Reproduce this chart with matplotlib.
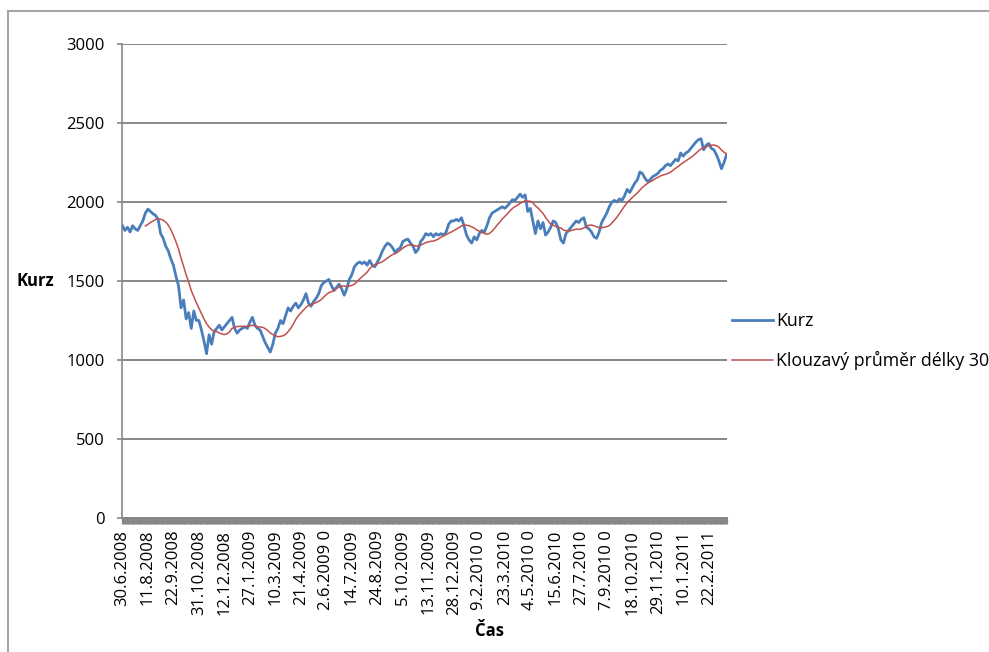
import matplotlib
matplotlib.use("Agg")
import matplotlib.pyplot as plt
import numpy as np
import pandas as pd
from matplotlib.patches import Rectangle

# ── Data: closing price, one value every 3rd trading day ──────────────────────
kurz = [
    1850, 1820, 1840, 1810, 1850, 1830, 1820, 1850, 1880, 1930,
    1955, 1940, 1925, 1915, 1890, 1800, 1770, 1720, 1690, 1640,
    1600, 1530, 1470, 1330, 1380, 1260, 1300, 1200, 1310, 1250,
    1250, 1190, 1120, 1040, 1160, 1100, 1180, 1200, 1220, 1190,
    1210, 1230, 1250, 1270, 1200, 1170, 1190, 1200, 1210, 1200,
    1240, 1270, 1220, 1200, 1190, 1150, 1110, 1080, 1050, 1100,
    1170, 1200, 1250, 1230, 1280, 1330, 1310, 1340, 1360, 1330,
    1350, 1380, 1420, 1360, 1340, 1370, 1390, 1420, 1470, 1490,
    1500, 1510, 1470, 1440, 1460, 1480, 1450, 1410, 1450, 1510,
    1540, 1590, 1610, 1620, 1610, 1620, 1600, 1630, 1600, 1590,
    1620, 1650, 1690, 1720, 1740, 1730, 1710, 1680, 1700, 1710,
    1750, 1760, 1765, 1740, 1720, 1680, 1700, 1750, 1770, 1800,
    1790, 1800, 1780, 1800, 1790, 1800, 1790, 1810, 1860, 1880,
    1880, 1890, 1880, 1900, 1850, 1790, 1760, 1740, 1780, 1760,
    1800, 1820, 1810, 1850, 1900, 1930, 1940, 1950, 1960, 1970,
    1960, 1975, 1995, 2015, 2010, 2030, 2050, 2030, 2045, 1940,
    1960, 1880, 1800, 1880, 1830, 1870, 1790, 1810, 1840, 1880,
    1870, 1830, 1760, 1740, 1800, 1820, 1840, 1860, 1880, 1870,
    1890, 1900, 1840, 1830, 1810, 1780, 1770, 1810, 1870, 1900,
    1930, 1970, 2000, 2010, 2000, 2020, 2010, 2040, 2080, 2060,
    2090, 2120, 2140, 2190, 2180, 2150, 2130, 2140, 2160, 2170,
    2180, 2200, 2210, 2230, 2240, 2230, 2250, 2270, 2260, 2310,
    2290, 2310, 2320, 2340, 2360, 2380, 2395, 2400, 2330, 2360,
    2370, 2340, 2330, 2300, 2260, 2210, 2250, 2300,
]

datum_labels = [
    "30.6.2008", "11.8.2008", "22.9.2008", "31.10.2008", "12.12.2008",
    "27.1.2009", "10.3.2009", "21.4.2009", "2.6.2009 0", "14.7.2009",
    "24.8.2009", "5.10.2009", "13.11.2009", "28.12.2009", "9.2.2010 0",
    "23.3.2010", "4.5.2010 0", "15.6.2010", "27.7.2010", "7.9.2010 0",
    "18.10.2010", "29.11.2010", "10.1.2011", "22.2.2011",
]

y_ticks = [0, 500, 1000, 1500, 2000, 2500, 3000]

STEP = 3        # trading days between stored values
OKNO = 30       # moving average length in trading days
LABEL_EVERY = 30

FONT = "Open Sans"
GRAY = "#878787"
BLUE = "#4A7EBB"
RED = "#C0504D"

plt.rcParams["font.family"] = [FONT, "DejaVu Sans"]

den = np.arange(len(kurz)) * STEP
prumer = pd.Series(kurz).rolling(OKNO // STEP).mean()
n_dni = den[-1] + 1

W, H = 989, 652
fig = plt.figure(figsize=(W / 100, H / 100), dpi=100)
ax = fig.add_axes([122 / W, 1 - 518 / H, 605 / W, 474 / H])

# chart frame
fig.patches.append(Rectangle((8 / W, -0.1), 1.2, 1.1 - 11 / H,
                             transform=fig.transFigure, fill=False,
                             edgecolor="#a6a6a6", linewidth=1.5))

ax.plot(den, kurz, color=BLUE, linewidth=2.0, label="Kurz", zorder=3)
ax.plot(den, prumer, color=RED, linewidth=1.1,
        label="Klouzavý průměr délky 30", zorder=4)

ax.set_xlim(-0.5, n_dni - 0.5)
ax.set_ylim(0, 3000)
ax.set_yticks(y_ticks)
ax.set_yticklabels([str(v) for v in y_ticks], fontsize=12)
ax.yaxis.grid(True, color=GRAY, linewidth=1.4)
ax.set_axisbelow(True)

ax.set_xticks(np.arange(0, n_dni, LABEL_EVERY))
ax.set_xticklabels(datum_labels, rotation=90, fontsize=12)
ax.set_xticks(np.arange(n_dni), minor=True)
ax.tick_params(axis="x", which="both", length=4.4, width=0.9, color=GRAY,
               direction="out", pad=4)
ax.tick_params(axis="y", length=3.6, width=1.2, color=GRAY, pad=9)

for side in ("top", "right"):
    ax.spines[side].set_visible(False)
ax.spines["left"].set_color(GRAY)
ax.spines["left"].set_linewidth(1.2)
ax.spines["bottom"].set_color(GRAY)
ax.spines["bottom"].set_linewidth(1.4)

fig.text(17 / W, 1 - 281 / H, "Kurz", fontsize=12, fontweight="bold",
         ha="left", va="center")
fig.text(490 / W, 1 - 631 / H, "Čas", fontsize=12, fontweight="bold",
         ha="center", va="center")

ax.legend(loc="center left", bbox_to_anchor=(732 / W, 1 - 341 / H),
          bbox_transform=fig.transFigure, frameon=False, fontsize=12.8,
          handlelength=2.3, handletextpad=0.2, labelspacing=1.15,
          borderpad=0, borderaxespad=0)

fig.savefig("out.png", dpi=100)
